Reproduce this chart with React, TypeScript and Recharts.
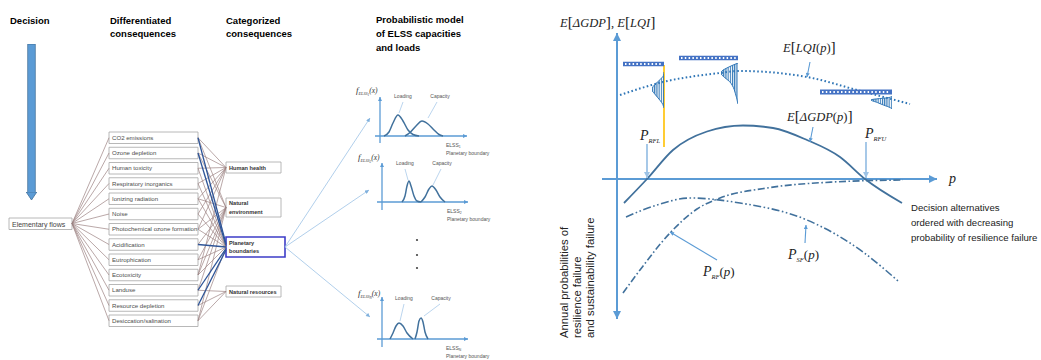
import React from 'react';
import { ComposedChart, Line, Area, Scatter, XAxis, YAxis, ReferenceLine, ReferenceArea } from 'recharts';

const SANS = '"Liberation Sans", Arial, sans-serif';
const SERIF = '"Liberation Serif", "Times New Roman", serif';
const AX = '#5b9bd5';
const PALE = '#9dc3e6';
const CURVE = '#41719c';
const LINK = '#9c8282';
const BOLD_LINK = '#2f5597';

// ---------- left: impact network ----------
const flowNode = 'Elementary flows';
const midpointNames = [
  'CO2 emissions', 'Ozone depletion', 'Human toxicity', 'Respiratory inorganics', 'Ionizing radiation',
  'Noise', 'Photochemical ozone formation', 'Acidification', 'Eutrophication', 'Ecotoxicity',
  'Landuse', 'Resource depletion', 'Desiccation/salination',
];
const categoryLabels = [['Human health'], ['Natural', 'environment'], ['Planetary', 'boundaries'], ['Natural resources']];
// [midpoint, category]
const impactLinks: [number, number][] = [
  [0, 0], [1, 0], [2, 0], [3, 0], [4, 0], [5, 0], [6, 0], [9, 0],
  [0, 1], [1, 1], [4, 1], [6, 1], [7, 1], [8, 1], [9, 1], [10, 1], [12, 1],
  [2, 2], [3, 2], [4, 2], [5, 2], [6, 2], [8, 2], [9, 2], [12, 2],
  [10, 3], [11, 3], [12, 3],
];
const boundaryLinks = [0, 1, 7, 10, 11];
const columnTitles = [['Decision'], ['Differentiated', 'consequences'], ['Categorized', 'consequences'], ['Probabilistic model', 'of ELSS capacities', 'and loads']];

// ---------- middle: loading / capacity densities ----------
const loading1 = [{ x: 0.4, y: 0 }, { x: 0.9, y: 0.4 }, { x: 1.3, y: 1.3 }, { x: 1.8, y: 2.1 }, { x: 2.3, y: 1.5 }, { x: 2.8, y: 0.6 }, { x: 3.3, y: 0.15 }, { x: 3.9, y: 0 }];
const capacity1 = [{ x: 2.5, y: 0 }, { x: 3.0, y: 0.35 }, { x: 3.6, y: 1.0 }, { x: 4.2, y: 1.5 }, { x: 4.8, y: 1.2 }, { x: 5.4, y: 0.6 }, { x: 5.9, y: 0.15 }, { x: 6.3, y: 0 }];
const loading2 = [{ x: 2.0, y: 0 }, { x: 2.3, y: 0.6 }, { x: 2.5, y: 1.6 }, { x: 2.7, y: 2.1 }, { x: 2.9, y: 1.6 }, { x: 3.2, y: 0.6 }, { x: 3.5, y: 0.1 }, { x: 3.9, y: 0 }];
const capacity2 = [{ x: 3.9, y: 0 }, { x: 4.3, y: 0.5 }, { x: 4.7, y: 1.3 }, { x: 5.0, y: 1.6 }, { x: 5.4, y: 1.2 }, { x: 5.8, y: 0.5 }, { x: 6.3, y: 0 }];
const loading3 = [{ x: 0.8, y: 0 }, { x: 1.1, y: 0.6 }, { x: 1.4, y: 1.3 }, { x: 1.7, y: 1.6 }, { x: 2.1, y: 1.3 }, { x: 2.5, y: 0.6 }, { x: 3.1, y: 0 }];
const capacity3 = [{ x: 3.3, y: 0 }, { x: 3.5, y: 0.7 }, { x: 3.7, y: 1.8 }, { x: 3.9, y: 2.1 }, { x: 4.1, y: 1.7 }, { x: 4.3, y: 0.7 }, { x: 4.6, y: 0 }];
const elssIndex = ['1', '2', 'N'];

// ---------- right: expected benefits and failure probabilities ----------
const gdpCurve = [{ x: 0.7, y: -2.4 }, { x: 3, y: 0 }, { x: 5.6, y: 2.9 }, { x: 9, y: 4.75 }, { x: 12.6, y: 5.35 }, { x: 15.6, y: 5.1 }, { x: 19, y: 3.9 }, { x: 22.3, y: 2.2 }, { x: 24.8, y: 0 }, { x: 28.5, y: -2.4 }];
const lqiCurve = [{ x: 0.3, y: 8.4 }, { x: 4.6, y: 9.7 }, { x: 10.3, y: 10.6 }, { x: 12.3, y: 10.8 }, { x: 19, y: 10.2 }, { x: 24, y: 8.9 }, { x: 29.3, y: 7.5 }];
const psfCurve = [{ x: 0.9, y: -3.8 }, { x: 4, y: -2.6 }, { x: 7.3, y: -1.9 }, { x: 12.3, y: -2.4 }, { x: 19, y: -4.1 }, { x: 24.6, y: -7.3 }, { x: 28.1, y: -10.2 }];
const prfCurve = [{ x: 0.6, y: -11.4 }, { x: 2.3, y: -9.1 }, { x: 5.3, y: -5.4 }, { x: 8, y: -3.0 }, { x: 10.3, y: -1.9 }, { x: 15, y: -0.9 }, { x: 21.6, y: -0.3 }, { x: 28.6, y: -0.1 }];
const pRFL = 3.0;
const pRFU = 24.9;
// outcome distributions drawn at three alternatives (t: position along the spread, w: density)
const spread1 = [{ t: 0, w: 0 }, { t: 0.1, w: 0.05 }, { t: 0.2, w: 0.3 }, { t: 0.3, w: 0.6 }, { t: 0.4, w: 0.9 }, { t: 0.5, w: 1 }, { t: 0.6, w: 0.8 }, { t: 0.7, w: 0.55 }, { t: 0.8, w: 0.3 }, { t: 0.9, w: 0.1 }, { t: 1, w: 0 }];
const spread2 = [{ t: 0, w: 0 }, { t: 0.1, w: 0.55 }, { t: 0.2, w: 0.95 }, { t: 0.25, w: 1 }, { t: 0.35, w: 0.8 }, { t: 0.45, w: 0.5 }, { t: 0.55, w: 0.33 }, { t: 0.65, w: 0.22 }, { t: 0.75, w: 0.15 }, { t: 0.85, w: 0.08 }, { t: 0.95, w: 0.03 }, { t: 1, w: 0 }];
const spread3 = [{ t: 0, w: 0 }, { t: 0.1, w: 0.1 }, { t: 0.3, w: 1 }, { t: 0.5, w: 0.7 }, { t: 0.7, w: 0.4 }, { t: 0.9, w: 0.08 }, { t: 1, w: 0 }];
const sideNote = ['Decision alternatives', 'ordered with decreasing', 'probability of resilience failure'];
const verticalNote = ['Annual probabilities of', 'resilience failure', 'and sustainability failure'];

type Part = { t: string; it?: boolean; sz?: number; dy?: number };

const TextMark = (props: any) => {
  const { cx, cy, payload: p } = props;
  const fam = p.serif ? SERIF : SANS;
  if (p.parts) {
    return (
      <text x={cx} y={cy} fontFamily={fam} fontSize={p.size} fill={p.color ?? '#222'}>
        {p.parts.map((q: Part, i: number) => (
          <tspan key={i} fontStyle={q.it ? 'italic' : 'normal'} fontSize={q.sz ?? p.size} dy={q.dy ?? 0}>{q.t}</tspan>
        ))}
      </text>
    );
  }
  const lh = p.size * (p.lh ?? 1.3);
  return (
    <text x={cx} y={cy} fontFamily={fam} fontSize={p.size} fontWeight={p.bold ? 'bold' : 'normal'}
      fill={p.color ?? '#222'} textAnchor={p.anchor ?? 'start'}
      transform={p.rotate ? `rotate(${p.rotate} ${cx} ${cy})` : undefined}>
      {p.lines.map((l: string, i: number) => (
        <tspan key={i} x={cx} dy={i === 0 ? 0 : lh}>{l}</tspan>
      ))}
    </text>
  );
};

const Dot = (props: any) => <circle cx={props.cx} cy={props.cy} r={1.1} fill="#444" />;

const seg = (key: string, a: number[], b: number[], stroke: string, width: number, extra: any = {}) => (
  <ReferenceLine key={key} segment={[{ x: a[0], y: a[1] }, { x: b[0], y: b[1] }]} stroke={stroke}
    strokeWidth={width} ifOverflow="visible" {...extra} />
);

const Markers = () => (
  <svg width={0} height={0} style={{ position: 'absolute', left: 0, top: 0 }}>
    <defs>
      <marker id="axisHead" viewBox="0 0 10 10" refX={10} refY={5} markerUnits="userSpaceOnUse" markerWidth={9} markerHeight={8} orient="auto-start-reverse">
        <path d="M0,0 L10,5 L0,10 z" fill={AX} />
      </marker>
      <marker id="smallHead" viewBox="0 0 10 10" refX={10} refY={5} markerUnits="userSpaceOnUse" markerWidth={5} markerHeight={4} orient="auto-start-reverse">
        <path d="M0,0 L10,5 L0,10 z" fill={AX} />
      </marker>
      <marker id="paleHead" viewBox="0 0 10 10" refX={10} refY={5} markerUnits="userSpaceOnUse" markerWidth={7} markerHeight={6} orient="auto">
        <path d="M0,0 L10,5 L0,10 z" fill={PALE} />
      </marker>
      <marker id="linkHead" viewBox="0 0 10 10" refX={10} refY={5} markerUnits="userSpaceOnUse" markerWidth={5} markerHeight={4} orient="auto">
        <path d="M0,0 L10,5 L0,10 z" fill="#7fb0dd" />
      </marker>
      <marker id="decisionHead" viewBox="0 0 9 12" refX={0.5} refY={6} markerUnits="userSpaceOnUse" markerWidth={9} markerHeight={12} orient="auto">
        <path d="M0.5,0.7 L8.5,6 L0.5,11.3 z" fill="#5b9bd5" stroke="#41719c" strokeWidth={0.8} />
      </marker>
      {/* horizontal in the rotated spread charts, so vertical on screen */}
      <pattern id="hstripe" patternUnits="userSpaceOnUse" width={4} height={2.2}>
        <rect x={0} y={0} width={4} height={1.1} fill="#2e75b6" />
      </pattern>
    </defs>
  </svg>
);

const hiddenAxes = (xd: number[], yd: number[], yRev = false) => [
  <XAxis key="x" type="number" dataKey="x" domain={xd} allowDataOverflow hide />,
  <YAxis key="y" type="number" domain={yd} allowDataOverflow reversed={yRev} hide />,
];

// ----- network layout (chart units = pixels of this panel) -----
const MID_X0 = 109, MID_X1 = 198, MID_TOP = 132, MID_STEP = 15.25, MID_H = 11.5;
const midY = (i: number) => MID_TOP + MID_H / 2 + i * MID_STEP;
const CAT_BOX = [[226, 281, 162, 173], [226, 281, 198, 217], [226, 285, 237, 257], [226, 281, 286, 297]];
const catY = (c: number) => (CAT_BOX[c][2] + CAT_BOX[c][3]) / 2;
const FLOW_BOX = [9, 72, 218, 229.5];
const densityTargets = [[370, 118], [369, 190], [370, 317]];

const NetworkPanel = () => {
  const texts: any[] = [
    { x: 10, y: 24, lines: columnTitles[0], size: 9.5, bold: true, color: '#000' },
    { x: 110, y: 24, lines: columnTitles[1], size: 9.5, bold: true, color: '#000', lh: 1.4 },
    { x: 226, y: 24, lines: columnTitles[2], size: 9.5, bold: true, color: '#000', lh: 1.4 },
    { x: 376, y: 23, lines: columnTitles[3], size: 9.5, bold: true, color: '#000', lh: 1.45 },
    { x: 12, y: 226.5, lines: [flowNode], size: 7, color: '#444' },
    ...midpointNames.map((n, i) => ({ x: 112, y: midY(i) + 2.2, lines: [n], size: 6.1, color: '#4d4d4d' })),
    ...categoryLabels.map((l, c) => ({ x: 229, y: l.length > 1 ? catY(c) - 2.2 : catY(c) + 2, lines: l, size: 5.6, bold: true, color: '#333', lh: 1.55 })),
  ];
  return (
    <ComposedChart width={500} height={360} margin={{ top: 0, right: 0, bottom: 0, left: 0 }}>
      {hiddenAxes([0, 500], [0, 360], true)}
      {midpointNames.map((_, i) => seg(`f${i}`, [FLOW_BOX[1], 223.5], [MID_X0, midY(i)], LINK, 0.7))}
      {impactLinks.map(([m, c], i) => seg(`l${i}`, [MID_X1, midY(m)], [CAT_BOX[c][0], catY(c)], LINK, 0.7))}
      {boundaryLinks.map((m, i) => seg(`b${i}`, [MID_X1, midY(m)], [CAT_BOX[2][0], catY(2) - 3 + i * 1.5], BOLD_LINK, 1.3))}
      {densityTargets.map((t, i) => seg(`d${i}`, [CAT_BOX[2][1], catY(2)], t, PALE, 0.8, { markerEnd: 'url(#linkHead)' }))}
      {seg('decOut', [31.5, 44], [31.5, 192], '#41719c', 8.4)}
      {seg('dec', [31.5, 44.6], [31.5, 192], '#5b9bd5', 6.8, { markerEnd: 'url(#decisionHead)' })}
      <ReferenceArea x1={FLOW_BOX[0]} x2={FLOW_BOX[1]} y1={FLOW_BOX[2]} y2={FLOW_BOX[3]} fill="#fff" fillOpacity={1} stroke="#a6a6a6" strokeWidth={0.8} ifOverflow="visible" />
      {midpointNames.map((_, i) => (
        <ReferenceArea key={`m${i}`} x1={MID_X0} x2={MID_X1} y1={MID_TOP + i * MID_STEP} y2={MID_TOP + i * MID_STEP + MID_H}
          fill="#fff" fillOpacity={1} stroke="#a6a6a6" strokeWidth={0.8} ifOverflow="visible" />
      ))}
      {CAT_BOX.map((b, c) => (
        <ReferenceArea key={`c${c}`} x1={b[0]} x2={b[1]} y1={b[2]} y2={b[3]} fill="#fff" fillOpacity={1}
          stroke={c === 2 ? '#3d3dc8' : '#a6a6a6'} strokeWidth={c === 2 ? 1.6 : 0.8} ifOverflow="visible" />
      ))}
      <Scatter data={texts} dataKey="y" shape={TextMark} isAnimationActive={false} />
      <Scatter data={[{ x: 417, y: 240 }, { x: 417, y: 255 }, { x: 417, y: 268 }]} dataKey="y" shape={Dot} isAnimationActive={false} />
    </ComposedChart>
  );
};

const DensityPanel = ({ loading, capacity, idx, yTop, yBot, xEnd, fY, lbl, lblY, ptrL, ptrC, elssX }: any) => {
  const texts = [
    { x: -2.4, y: fY, serif: true, size: 8, color: '#333', parts: [{ t: 'f', it: true, sz: 9 }, { t: 'ELSS', it: true, sz: 4.2, dy: 2 }, { t: idx, it: true, sz: 3.4, dy: 1 }, { t: '(x)', it: true, sz: 7.5, dy: -3 }] },
    { x: lbl[0], y: lblY, lines: ['Loading'], size: 5, anchor: 'middle', color: '#555' },
    { x: lbl[1], y: lblY, lines: ['Capacity'], size: 5, anchor: 'middle', color: '#555' },
    { x: elssX, y: -1.1, size: 5, color: '#555', parts: [{ t: 'ELSS' }, { t: idx, sz: 3.4, dy: 1.2 }] },
    { x: elssX, y: -1.9, lines: ['Planetary boundary'], size: 5, color: '#555' },
  ];
  return (
    <ComposedChart width={140} height={70} margin={{ top: 0, right: 0, bottom: 0, left: 0 }}>
      {hiddenAxes([-3, 11], [-2, 5])}
      {seg('ya', [0, yBot], [0, yTop], AX, 1.3, { markerEnd: 'url(#smallHead)' })}
      {seg('xa', [-0.5, 0], [xEnd, 0], AX, 1.3, { markerEnd: 'url(#smallHead)' })}
      {seg('pl', ptrL[0], ptrL[1], PALE, 0.7)}
      {seg('pc', ptrC[0], ptrC[1], PALE, 0.7)}
      <Line data={loading} dataKey="y" type="monotone" stroke={CURVE} strokeWidth={1.5} dot={false} activeDot={false} isAnimationActive={false} />
      <Line data={capacity} dataKey="y" type="monotone" stroke={CURVE} strokeWidth={1.5} dot={false} activeDot={false} isAnimationActive={false} />
      <Scatter data={texts} dataKey="y" shape={TextMark} isAnimationActive={false} />
    </ComposedChart>
  );
};

// a small density drawn as an area chart, turned on its side so it hangs left of its alternative
const Spread = ({ data, left, top, w, h }: any) => (
  <div style={{ position: 'absolute', left, top: top + h, width: h, height: w, transform: 'rotate(-90deg)', transformOrigin: '0 0' }}>
    <ComposedChart width={h} height={w} margin={{ top: 0, right: 0, bottom: 0, left: 0 }}>
      <XAxis type="number" dataKey="t" domain={[0, 1]} allowDataOverflow reversed hide />
      <YAxis type="number" domain={[0, 1]} allowDataOverflow hide />
      <Area data={data} dataKey="w" type="monotone" stroke="#2e75b6" strokeWidth={1} fill="url(#hstripe)" fillOpacity={1} isAnimationActive={false} />
    </ComposedChart>
  </div>
);

const math = (x: number, y: number, parts: Part[], size = 12.5) => ({ x, y, serif: true, size, color: '#222', parts });

const TradeoffPanel = () => {
  const texts: any[] = [
    math(-5.7, 15.2, [{ t: 'E', it: true }, { t: '[', sz: 15.5 }, { t: 'ΔGDP', it: true }, { t: ']', sz: 15.5 }, { t: ', ' }, { t: 'E', it: true }, { t: '[', sz: 15.5 }, { t: 'LQI', it: true }, { t: ']', sz: 15.5 }]),
    math(16.6, 12.7, [{ t: 'E', it: true }, { t: '[', sz: 15.5 }, { t: 'LQI', it: true }, { t: '(' }, { t: 'p', it: true }, { t: ')' }, { t: ']', sz: 15.5 }]),
    math(17.0, 5.8, [{ t: 'E', it: true }, { t: '[', sz: 15.5 }, { t: 'ΔGDP', it: true }, { t: '(' }, { t: 'p', it: true }, { t: ')' }, { t: ']', sz: 15.5 }]),
    math(2.3, 3.9, [{ t: 'P', it: true, sz: 14 }, { t: 'RFL', it: true, sz: 6.5, dy: 3 }]),
    math(24.8, 4.1, [{ t: 'P', it: true, sz: 14 }, { t: 'RFU', it: true, sz: 6.5, dy: 3 }]),
    math(8.6, -9.7, [{ t: 'P', it: true, sz: 14 }, { t: 'RF', it: true, sz: 6.5, dy: 3 }, { t: '(', dy: -3 }, { t: 'p', it: true }, { t: ')' }], 13),
    math(17.1, -8.0, [{ t: 'P', it: true, sz: 14 }, { t: 'SF', it: true, sz: 6.5, dy: 3 }, { t: '(', dy: -3 }, { t: 'p', it: true }, { t: ')' }], 13),
    math(33.2, -0.4, [{ t: 'p', it: true }], 14),
    { x: 29.4, y: -3.2, lines: sideNote, size: 9.6, lh: 1.58, color: '#222' },
    { x: -4.9, y: -15.9, lines: verticalNote, size: 11.3, lh: 1.15, rotate: -90, color: '#222' },
  ];
  return (
    <ComposedChart width={501} height={360} margin={{ top: 0, right: 0, bottom: 0, left: 0 }}>
      {hiddenAxes([-7.7, 42.4], [-18.1, 17.9])}
      {seg('vaxis', [0, -14], [0, 14.6], AX, 2, { markerStart: 'url(#axisHead)', markerEnd: 'url(#axisHead)' })}
      {seg('paxis', [-1.5, 0], [32, 0], AX, 2, { markerEnd: 'url(#axisHead)' })}
      <Line data={lqiCurve} dataKey="y" type="monotone" stroke="#2e75b6" strokeWidth={2} strokeDasharray="1.6 2.4" dot={false} activeDot={false} isAnimationActive={false} />
      <Line data={gdpCurve} dataKey="y" type="monotone" stroke={CURVE} strokeWidth={1.8} dot={false} activeDot={false} isAnimationActive={false} />
      <Line data={psfCurve} dataKey="y" type="monotone" stroke={CURVE} strokeWidth={1.6} strokeDasharray="8 2.5 1.6 2.5 1.6 2.5" dot={false} activeDot={false} isAnimationActive={false} />
      <Line data={prfCurve} dataKey="y" type="monotone" stroke={CURVE} strokeWidth={1.6} strokeDasharray="7 2.5 1.6 2.5" dot={false} activeDot={false} isAnimationActive={false} />
      {seg('yellow', [4.7, 11.4], [4.7, 3.2], '#ffc000', 1.6)}
      {seg('bar1', [0.6, 11.5], [4.7, 11.5], '#4472c4', 4.5)}
      {seg('bar1w', [0.8, 11.5], [4.5, 11.5], '#fff', 1.8, { strokeDasharray: '1.5 2.3' })}
      {seg('bar2', [6.2, 12.1], [12.1, 12.1], '#4472c4', 4.5)}
      {seg('bar2w', [6.4, 12.1], [11.9, 12.1], '#fff', 1.8, { strokeDasharray: '1.5 2.3' })}
      {seg('bar3', [20.3, 8.7], [27.5, 8.7], '#4472c4', 5)}
      {seg('bar3w', [20.5, 8.7], [27.3, 8.7], '#fff', 2, { strokeDasharray: '1.5 2.3' })}
      {seg('pRFL', [pRFL, 3.5], [pRFL, 0.1], PALE, 1.8, { markerEnd: 'url(#paleHead)' })}
      {seg('pRFU', [pRFU, 3.7], [pRFU, 0.1], PALE, 1.8, { markerEnd: 'url(#paleHead)' })}
      {seg('pLQI', [19.3, 11.7], [19.0, 10.2], AX, 1.1, { markerEnd: 'url(#smallHead)' })}
      {seg('pGDP', [19.6, 5.2], [19.3, 3.7], AX, 1.1, { markerEnd: 'url(#smallHead)' })}
      {seg('pRF', [10, -8.1], [5.3, -5.3], AX, 1.1, { markerEnd: 'url(#smallHead)' })}
      {seg('pSF', [18.8, -6.4], [18.9, -4.6], AX, 1.1, { markerEnd: 'url(#smallHead)' })}
      <Scatter data={texts} dataKey="y" shape={TextMark} isAnimationActive={false} />
    </ComposedChart>
  );
};

const at = (left: number, top: number): React.CSSProperties => ({ position: 'absolute', left, top });

export default function App() {
  return (
    <div style={{ position: 'absolute', left: 0, top: 0, width: 1041, height: 360, background: '#fff', fontFamily: SANS, overflow: 'hidden' }}>
      <Markers />
      <div style={at(0, 0)}><NetworkPanel /></div>
      <div style={at(350, 86)}>
        <DensityPanel loading={loading1} capacity={capacity1} idx={elssIndex[0]} yTop={3.9} yBot={-0.7} xEnd={8.7} fY={4.3}
          lbl={[2.3, 6.0]} lblY={3.8} ptrL={[[2.3, 3.4], [1.9, 2.3]]} ptrC={[[5.7, 3.4], [4.8, 1.8]]} elssX={6.6} />
      </div>
      <div style={at(352, 152)}>
        <DensityPanel loading={loading2} capacity={capacity2} idx={elssIndex[1]} yTop={3.9} yBot={-0.8} xEnd={8.6} fY={4.2}
          lbl={[2.3, 6.0]} lblY={3.7} ptrL={[[2.3, 3.3], [2.6, 2.2]]} ptrC={[[5.9, 3.3], [5.1, 1.7]]} elssX={6.5} />
      </div>
      <div style={at(352, 289)}>
        <DensityPanel loading={loading3} capacity={capacity3} idx={elssIndex[2]} yTop={4.2} yBot={-0.8} xEnd={8.6} fY={4.3}
          lbl={[2.2, 5.9]} lblY={3.9} ptrL={[[2.2, 3.5], [1.8, 1.8]]} ptrC={[[5.8, 3.5], [4.2, 2.3]]} elssX={6.4} />
      </div>
      <div style={at(540, 0)}><TradeoffPanel /></div>
      <Spread data={spread1} left={652} top={72} w={12} h={36} />
      <Spread data={spread2} left={721} top={63} w={17} h={41} />
      <Spread data={spread3} left={871} top={96} w={21} h={13} />
    </div>
  );
}
